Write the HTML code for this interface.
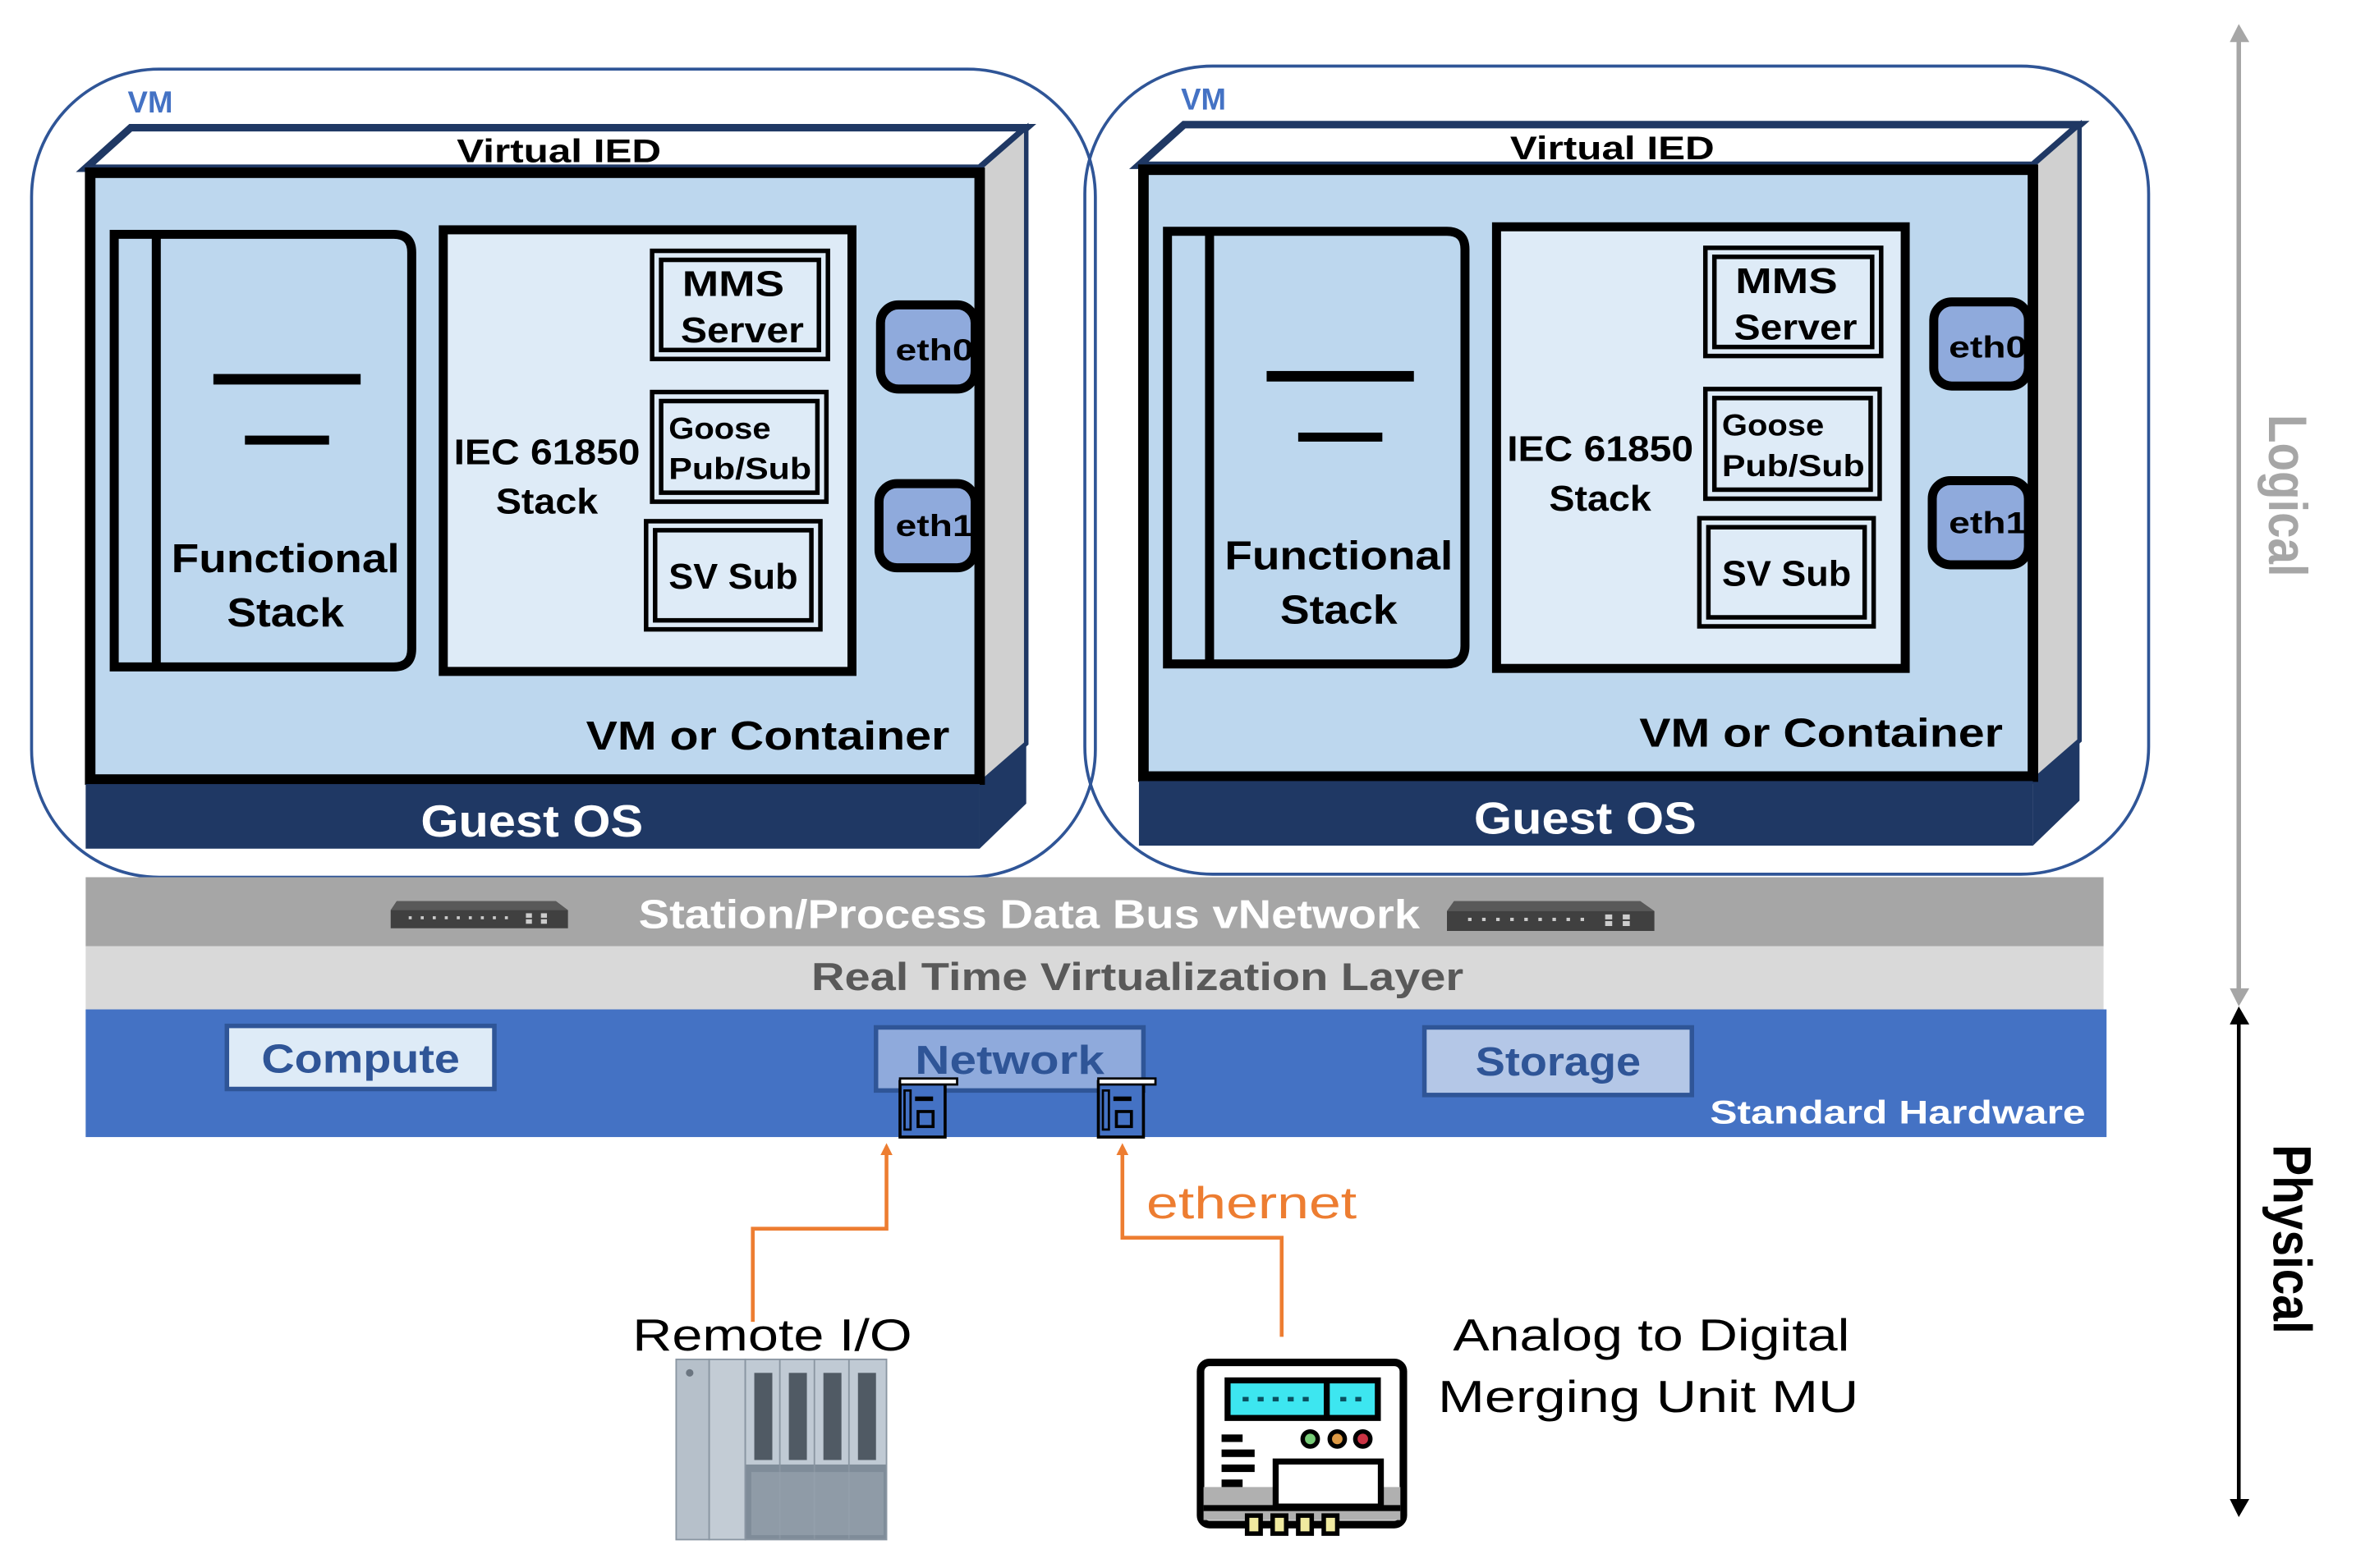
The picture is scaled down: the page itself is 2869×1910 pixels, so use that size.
<!DOCTYPE html>
<html><head><meta charset="utf-8"><style>
html,body{margin:0;padding:0;background:#fff;}
svg{display:block;}
text{font-family:"Liberation Sans",sans-serif;}
</style></head><body>
<svg width="2869" height="1910" viewBox="0 0 1568 1043.9" xmlns="http://www.w3.org/2000/svg">
<defs>
<g id="vm">
  <rect x="21" y="46" width="708" height="538" rx="85" ry="85" fill="none" stroke="#2f5597" stroke-width="2"/>
  <text x="85" y="75" font-size="20" font-weight="bold" fill="#4472c4">VM</text>
  <polygon points="57,112 87,85 683,85 652,112" fill="#fff" stroke="#1f3864" stroke-width="5" stroke-linejoin="miter"/>
  <polygon points="652,112 683,85 683,495 652,522" fill="#d0d0d0" stroke="#1f3864" stroke-width="3"/>
  <polygon points="652,522 683,495 683,535 652,565" fill="#1f3864"/>
  <text x="372" y="108" font-size="22" font-weight="bold" text-anchor="middle" textLength="136" lengthAdjust="spacingAndGlyphs">Virtual IED</text>
  <rect x="60" y="115" width="592" height="404" fill="#bdd7ee" stroke="#000" stroke-width="7"/>
  <rect x="57" y="522" width="595" height="43" fill="#1f3864"/>
  <text x="354" y="557" font-size="30" font-weight="bold" fill="#fff" text-anchor="middle" textLength="148" lengthAdjust="spacingAndGlyphs">Guest OS</text>
  <path d="M76,156 H262 Q274,156 274,168 V432 Q274,444 262,444 H76 Z" fill="#bdd7ee" stroke="#000" stroke-width="6"/>
  <line x1="104" y1="156" x2="104" y2="444" stroke="#000" stroke-width="6"/>
  <rect x="142" y="249" width="98" height="7" fill="#000"/>
  <rect x="163" y="290" width="56" height="6" fill="#000"/>
  <text x="190" y="381" font-size="27" font-weight="bold" text-anchor="middle" textLength="152" lengthAdjust="spacingAndGlyphs">Functional</text>
  <text x="190" y="417" font-size="27" font-weight="bold" text-anchor="middle" textLength="78" lengthAdjust="spacingAndGlyphs">Stack</text>
  <rect x="295" y="153" width="272" height="294" fill="#deebf7" stroke="#000" stroke-width="6"/>
  <text x="364" y="309" font-size="24" font-weight="bold" text-anchor="middle" textLength="124" lengthAdjust="spacingAndGlyphs">IEC 61850</text>
  <text x="364" y="342" font-size="24" font-weight="bold" text-anchor="middle" textLength="68" lengthAdjust="spacingAndGlyphs">Stack</text>
  <rect x="434" y="167" width="117" height="72" fill="#deebf7" stroke="#000" stroke-width="3"/>
  <rect x="440" y="173" width="105" height="60" fill="none" stroke="#000" stroke-width="3"/>
  <text x="454" y="197" font-size="24" font-weight="bold" textLength="68" lengthAdjust="spacingAndGlyphs">MMS</text>
  <text x="453" y="228" font-size="24" font-weight="bold" textLength="82" lengthAdjust="spacingAndGlyphs">Server</text>
  <rect x="434" y="261" width="116" height="73" fill="#deebf7" stroke="#000" stroke-width="3"/>
  <rect x="440" y="267" width="104" height="61" fill="none" stroke="#000" stroke-width="3"/>
  <text x="445" y="292" font-size="20" font-weight="bold" textLength="68" lengthAdjust="spacingAndGlyphs">Goose</text>
  <text x="445" y="319" font-size="20" font-weight="bold" textLength="95" lengthAdjust="spacingAndGlyphs">Pub/Sub</text>
  <rect x="430" y="347" width="116" height="72" fill="#deebf7" stroke="#000" stroke-width="3"/>
  <rect x="436" y="353" width="104" height="60" fill="none" stroke="#000" stroke-width="3"/>
  <text x="488" y="392" font-size="24" font-weight="bold" text-anchor="middle" textLength="86" lengthAdjust="spacingAndGlyphs">SV Sub</text>
  <rect x="586" y="203" width="63" height="56" rx="12" fill="#8faadc" stroke="#000" stroke-width="6"/>
  <text x="596" y="240" font-size="20" font-weight="bold" textLength="52" lengthAdjust="spacingAndGlyphs">eth0</text>
  <rect x="585" y="322" width="64" height="56" rx="12" fill="#8faadc" stroke="#000" stroke-width="6"/>
  <text x="596" y="357" font-size="20" font-weight="bold" textLength="52" lengthAdjust="spacingAndGlyphs">eth1</text>
  <text x="632" y="499" font-size="27" font-weight="bold" text-anchor="end" textLength="242" lengthAdjust="spacingAndGlyphs">VM or Container</text>
</g>
<g id="sw">
  <polygon points="4,0 110,0 118,6 118,18 0,18 0,6" fill="#404040"/>
  <polygon points="4,0 110,0 118,6 0,6" fill="#595959"/>
  <g fill="#ccc"><rect x="12" y="10" width="2" height="2"/><rect x="20" y="10" width="2" height="2"/><rect x="28" y="10" width="2" height="2"/><rect x="36" y="10" width="2" height="2"/><rect x="44" y="10" width="2" height="2"/><rect x="52" y="10" width="2" height="2"/><rect x="60" y="10" width="2" height="2"/><rect x="68" y="10" width="2" height="2"/><rect x="76" y="10" width="2" height="2"/><rect x="90" y="8" width="4" height="3"/><rect x="90" y="12" width="4" height="3"/><rect x="100" y="8" width="4" height="3"/><rect x="100" y="12" width="4" height="3"/></g>
</g>
<g id="nic">
  <rect x="0" y="0" width="30" height="37" fill="#4472c4" stroke="#000" stroke-width="2"/>
  <rect x="0" y="-2" width="38" height="4" fill="#fff" stroke="#000" stroke-width="1.5"/>
  <rect x="10" y="10" width="12" height="3" fill="#000"/>
  <rect x="12" y="20" width="10" height="10" fill="none" stroke="#000" stroke-width="2"/>
  <rect x="3" y="6" width="4" height="26" fill="none" stroke="#000" stroke-width="1.5"/>
</g>
<marker id="ao" markerWidth="8" markerHeight="8" refX="4" refY="4" orient="auto" markerUnits="userSpaceOnUse"><path d="M0,0 L8,4 L0,8 Z" fill="#ed7d31"/></marker>
</defs>

<use href="#vm"/>
<use href="#vm" transform="translate(701,-2)"/>

<rect x="57" y="584" width="1343" height="46" fill="#a6a6a6"/>
<use href="#sw" transform="translate(260,600)"/>
<use href="#sw" transform="translate(963,600) scale(1.17,1.1)"/>
<text x="685" y="618" font-size="27" font-weight="bold" fill="#fff" text-anchor="middle" textLength="520" lengthAdjust="spacingAndGlyphs">Station/Process Data Bus vNetwork</text>
<rect x="57" y="630" width="1343" height="42" fill="#d9d9d9"/>
<text x="757" y="659" font-size="26" font-weight="bold" fill="#595959" text-anchor="middle" textLength="434" lengthAdjust="spacingAndGlyphs">Real Time Virtualization Layer</text>
<rect x="57" y="672" width="1345" height="85" fill="#4472c4"/>
<rect x="151" y="683" width="178" height="42" fill="#deebf7" stroke="#2f5597" stroke-width="3"/>
<text x="240" y="714" font-size="27" font-weight="bold" fill="#2f5597" text-anchor="middle" textLength="132" lengthAdjust="spacingAndGlyphs">Compute</text>
<rect x="583" y="684" width="178" height="42" fill="#8faadc" stroke="#2f5597" stroke-width="3"/>
<text x="672" y="715" font-size="27" font-weight="bold" fill="#2f5597" text-anchor="middle" textLength="126" lengthAdjust="spacingAndGlyphs">Network</text>
<rect x="948" y="684" width="178" height="45" fill="#b4c7e7" stroke="#2f5597" stroke-width="3"/>
<text x="1037" y="716" font-size="27" font-weight="bold" fill="#2f5597" text-anchor="middle" textLength="110" lengthAdjust="spacingAndGlyphs">Storage</text>
<text x="1388" y="748" font-size="22" font-weight="bold" fill="#fff" text-anchor="end" textLength="250" lengthAdjust="spacingAndGlyphs">Standard Hardware</text>
<use href="#nic" transform="translate(599,720)"/>
<use href="#nic" transform="translate(731,720)"/>

<polyline points="501,880 501,818 590,818 590,765" fill="none" stroke="#ed7d31" stroke-width="2.5" marker-end="url(#ao)"/>
<polyline points="853,890 853,824 747,824 747,765" fill="none" stroke="#ed7d31" stroke-width="2.5" marker-end="url(#ao)"/>
<text x="763" y="811" font-size="30" fill="#ed7d31" textLength="140" lengthAdjust="spacingAndGlyphs">ethernet</text>

<text x="514" y="899" font-size="30" text-anchor="middle" textLength="186" lengthAdjust="spacingAndGlyphs">Remote I/O</text>
<text x="967" y="899" font-size="30" textLength="264" lengthAdjust="spacingAndGlyphs">Analog to Digital</text>
<text x="957" y="940" font-size="30" textLength="280" lengthAdjust="spacingAndGlyphs">Merging Unit MU</text>

<g>
  <rect x="450" y="905" width="140" height="120" fill="#c0cad4"/>
  <rect x="450" y="975" width="140" height="50" fill="#7f8c99"/>
  <rect x="450" y="905" width="22" height="120" fill="#b6c0ca" stroke="#8a96a2"/>
  <rect x="472" y="905" width="24" height="120" fill="#c3ccd5" stroke="#8a96a2"/>
  <rect x="496" y="905" width="94" height="120" fill="none" stroke="#8a96a2"/>
  <rect x="502" y="914" width="12" height="58" fill="#505a64"/>
  <rect x="525" y="914" width="12" height="58" fill="#505a64"/>
  <rect x="548" y="914" width="12" height="58" fill="#505a64"/>
  <rect x="571" y="914" width="12" height="58" fill="#505a64"/>
  <line x1="519" y1="905" x2="519" y2="1025" stroke="#8a96a2"/>
  <line x1="542" y1="905" x2="542" y2="1025" stroke="#8a96a2"/>
  <line x1="565" y1="905" x2="565" y2="1025" stroke="#8a96a2"/>
  <rect x="500" y="980" width="88" height="42" fill="#9aa5b0" opacity="0.6"/>
  <circle cx="459" cy="914" r="2.5" fill="#6b7580"/>
</g>
<g>
  <rect x="799" y="907" width="135" height="108" rx="6" fill="#fff" stroke="#000" stroke-width="5"/>
  <rect x="801" y="990" width="131" height="22" fill="#b0b0b0"/>
  <rect x="817" y="919" width="100" height="25" fill="#3de6f0" stroke="#000" stroke-width="4"/>
  <line x1="883" y1="919" x2="883" y2="944" stroke="#000" stroke-width="4"/>
  <g fill="#0a5060"><rect x="827" y="930" width="4" height="3"/><rect x="837" y="930" width="4" height="3"/><rect x="847" y="930" width="4" height="3"/><rect x="857" y="930" width="4" height="3"/><rect x="867" y="930" width="4" height="3"/><rect x="892" y="930" width="4" height="3"/><rect x="902" y="930" width="4" height="3"/></g>
  <circle cx="872" cy="958" r="5" fill="#7c7" stroke="#000" stroke-width="3"/>
  <circle cx="890" cy="958" r="5" fill="#d94" stroke="#000" stroke-width="3"/>
  <circle cx="907" cy="958" r="5" fill="#c34" stroke="#000" stroke-width="3"/>
  <rect x="813" y="955" width="14" height="5" fill="#000"/>
  <rect x="813" y="965" width="22" height="5" fill="#000"/>
  <rect x="813" y="975" width="22" height="5" fill="#000"/>
  <rect x="813" y="985" width="14" height="5" fill="#000"/>
  <rect x="849" y="973" width="70" height="30" fill="#fff" stroke="#000" stroke-width="4"/>
  <line x1="801" y1="1004" x2="932" y2="1004" stroke="#000" stroke-width="4"/>
  <g fill="#f0eaa0" stroke="#000" stroke-width="3"><rect x="830" y="1009" width="9" height="12"/><rect x="847" y="1009" width="9" height="12"/><rect x="864" y="1009" width="9" height="12"/><rect x="881" y="1009" width="9" height="12"/></g>
</g>

<line x1="1490" y1="22" x2="1490" y2="664" stroke="#a6a6a6" stroke-width="3"/>
<path d="M1484,28 L1490,16 L1497,28 Z" fill="#a6a6a6"/>
<path d="M1484,658 L1490,670 L1497,658 Z" fill="#a6a6a6"/>
<line x1="1490" y1="676" x2="1490" y2="1004" stroke="#000" stroke-width="2.5"/>
<path d="M1484,682 L1490,670 L1497,682 Z" fill="#000"/>
<path d="M1484,998 L1490,1010 L1497,998 Z" fill="#000"/>
<text transform="translate(1510,330) rotate(90)" font-size="36" font-weight="bold" fill="#a6a6a6" text-anchor="middle" textLength="108" lengthAdjust="spacingAndGlyphs">Logical</text>
<text transform="translate(1513,825) rotate(90)" font-size="36" font-weight="bold" fill="#000" text-anchor="middle" textLength="126" lengthAdjust="spacingAndGlyphs">Physical</text>
</svg>
</body></html>
